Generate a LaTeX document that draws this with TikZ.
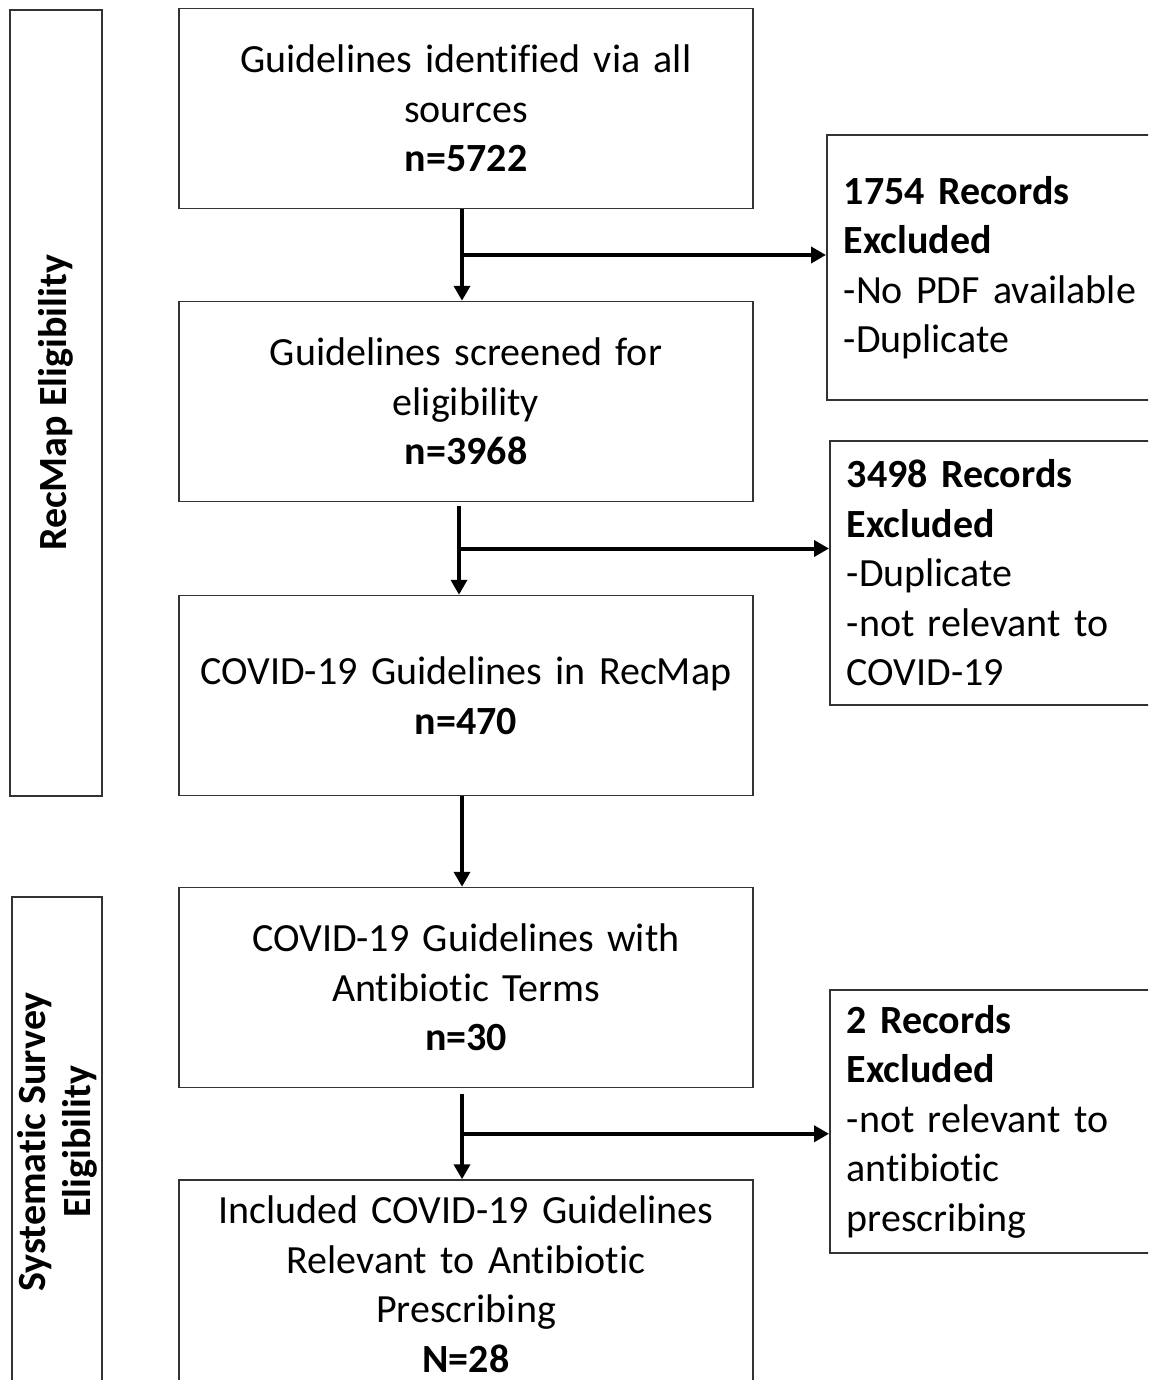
\documentclass[tikz,border=0pt]{standalone}
\usepackage{fontspec}
\setmainfont[Ligatures=NoCommon]{Carlito}
\usetikzlibrary{arrows.meta,positioning,calc}
\begin{document}
\begin{tikzpicture}[
  x=1pt, y=-1pt,
  box/.style={rectangle, draw=black!80, line width=1.5pt, minimum width=574pt, minimum height=200pt, inner sep=4pt, text width=560pt, align=center, font=\fontsize{40}{49.5}\selectfont},
  excl/.style={rectangle, draw=black!80, line width=1.5pt, anchor=west, minimum width=354pt, inner xsep=17pt, inner ysep=4pt, text width=320pt, align=left, font=\fontsize{40}{49.5}\selectfont},
  phase/.style={rectangle, draw=black!80, line width=1.5pt, rotate=90, inner sep=2pt, align=center, font=\fontsize{40}{45}\selectfont\bfseries},
  arr/.style={-{Triangle[length=15pt,width=16pt]}, line width=4pt, black}
]
  \clip (0,0) rectangle (1148,1380);
  % phases
  \node[phase, minimum width=786pt, minimum height=92pt] (phrec) at (56,403) {RecMap Eligibility};
  \node[phase, minimum width=490pt, minimum height=90pt] (phsys) at (57,1142) {Systematic Survey\\Eligibility};
  % main flow
  \node[box] (ident) at (466,108.5) {Guidelines identified via all\\sources\\\textbf{n=5722}};
  \node[box] (screen) at (466,401.5) {Guidelines screened for\\eligibility\\\textbf{n=3968}};
  \node[box] (recmap) at (466,695.5) {COVID-19 Guidelines in RecMap\\\textbf{n=470}};
  \node[box] (abx) at (466,987.5) {COVID-19 Guidelines with\\Antibiotic Terms\\\textbf{n=30}};
  \node[box, minimum height=208pt] (incl) at (466,1284) {Included COVID-19 Guidelines\\Relevant to Antibiotic\\Prescribing\\\textbf{N=28}};
  % exclusions
  \node[excl, minimum height=265pt] (exone) at (826,267.5) {\textbf{1754 Records}\\\textbf{Excluded}\\-No PDF available\\-Duplicate};
  \node[excl, minimum height=264pt] (extwo) at (829,573) {\textbf{3498 Records}\\\textbf{Excluded}\\-Duplicate\\-not relevant to\\COVID-19};
  \node[excl, minimum height=263pt] (exthree) at (829,1121.5) {\textbf{2 Records}\\\textbf{Excluded}\\-not relevant to\\antibiotic\\prescribing};
  % arrows
  \coordinate (mone) at ($([xshift=-4pt]ident.south)!.5!([xshift=-4pt]screen.north)$);
  \coordinate (mtwo) at ($([xshift=-7pt]screen.south)!.5!([xshift=-7pt]recmap.north)$);
  \coordinate (mthree) at ($([xshift=-4pt]abx.south)!.5!([xshift=-4pt]incl.north)$);
  \draw[arr] ([xshift=-4pt]ident.south) -- ([xshift=-4pt]screen.north);
  \draw[arr] ([xshift=-7pt,yshift=-4pt]screen.south) -- ([xshift=-7pt]recmap.north);
  \draw[arr] ([xshift=-4pt]recmap.south) -- ([xshift=-4pt]abx.north);
  \draw[arr] ([xshift=-4pt,yshift=-6pt]abx.south) -- ([xshift=-4pt]incl.north);
  \draw[arr] (mone) -- (mone -| exone.west);
  \draw[arr] (mtwo) -- (mtwo -| extwo.west);
  \draw[arr] (mthree) -- (mthree -| exthree.west);
\end{tikzpicture}
\end{document}
